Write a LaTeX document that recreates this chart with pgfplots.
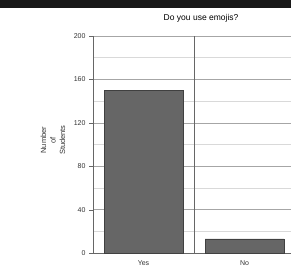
\documentclass[border=0pt]{standalone}
\usepackage{pgfplots}
\pgfplotsset{compat=1.18}
\usepackage{fontspec}
\setmainfont{Liberation Sans}
\begin{document}
\begin{tikzpicture}[x=1pt,y=1pt]
\fill[black!90] (0,260) rectangle (291,268);
\begin{axis}[
  at={(93pt,15pt)}, anchor=south west,
  scale only axis, width=202pt, height=217pt,
  xmin=-0.5, xmax=1.5, ymin=0, ymax=200,
  axis x line*=bottom, axis y line*=left,
  axis line style={gray!80!black, line width=0.6pt},
  xtick={0,1}, xticklabels={Yes,No},
  xtick style={draw=none},
  extra x ticks={0.5}, extra x tick labels={},
  extra x tick style={grid=major, major grid style={gray!80!black, line width=0.6pt}, tick style={draw=gray!80!black}, major tick length=3pt, tick align=outside},
  ytick={0,40,...,200}, minor ytick={20,60,...,180},
  ymajorgrids, yminorgrids,
  major grid style={gray!70, line width=0.6pt},
  minor grid style={gray!30, line width=0.5pt},
  tick align=outside, major tick length=4pt, minor tick length=0pt,
  ytick style={gray!80!black},
  tick label style={font=\fontsize{7}{8}\selectfont, text=black!80},
  /pgf/number format/assume math mode=true,
  title={Do you use emojis?},
  title style={font=\fontsize{8.5}{9}\selectfont, at={(0.535,1)}, yshift=4pt},
  ylabel={Number\\of\\Students},
  every axis y label/.style={at={(-40pt,0.52)}, rotate=90, anchor=center, align=center, font=\fontsize{7.5}{9.5}\selectfont, text=black!80},
  clip=false,
]
\addplot[ybar, bar width=79pt, fill=black!60, draw=black!75, line width=0.4pt] coordinates {(0,150) (1,13)};
\end{axis}
\pgfresetboundingbox
\path[use as bounding box] (0,0) rectangle (291,268);
\end{tikzpicture}
\end{document}
